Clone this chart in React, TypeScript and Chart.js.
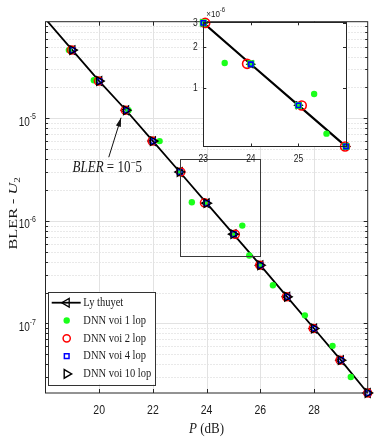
import React, { useEffect, useRef } from "react";
import { Chart, registerables } from "chart.js";
Chart.register(...registerables);

// ---------- data ----------
const seriesLabels = ["Ly thuyet", "DNN voi 1 lop", "DNN voi 2 lop", "DNN voi 4 lop", "DNN voi 10 lop"];

const theoryX = [18, 19, 20, 21, 22, 23, 24, 25, 26, 27, 28, 29, 30];
const theoryY = [9.3e-5, 4.63e-5, 2.31e-5, 1.2e-5, 6.0e-6, 3.0e-6, 1.49e-6, 7.43e-7, 3.7e-7, 1.82e-7, 8.94e-8, 4.39e-8, 2.1e-8];

const dnn1X = [18.87, 19.8, 21.09, 22.25, 23.0, 23.45, 24.0, 25.0, 25.33, 25.59, 26.0, 26.47, 27.66, 28.69, 29.37];
const dnn1Y = [4.63e-5, 2.35e-5, 1.2e-5, 6.0e-6, 3.0e-6, 1.52e-6, 1.5e-6, 7.4e-7, 9.0e-7, 4.6e-7, 3.7e-7, 2.36e-7, 1.2e-7, 6.05e-8, 3.01e-8];

const dnn2X = [18.97, 19.97, 20.97, 21.97, 23.04, 23.92, 25.07, 25.98, 26.97, 27.97, 28.97, 30];
const dnn2Y = [4.63e-5, 2.31e-5, 1.2e-5, 6.0e-6, 3.0e-6, 1.5e-6, 7.4e-7, 3.7e-7, 1.82e-7, 8.94e-8, 4.39e-8, 2.1e-8];

const dnn4X = [19, 20, 21, 22, 23, 24, 25, 26, 27, 28, 29, 30];
const dnn4Y = [4.63e-5, 2.31e-5, 1.2e-5, 6.0e-6, 3.0e-6, 1.49e-6, 7.43e-7, 3.7e-7, 1.82e-7, 8.94e-8, 4.39e-8, 2.1e-8];

const dnn10X = [19, 20, 21, 22, 23, 24, 25, 26, 27, 28, 29, 30];
const dnn10Y = [4.63e-5, 2.31e-5, 1.2e-5, 6.0e-6, 3.0e-6, 1.49e-6, 7.43e-7, 3.7e-7, 1.82e-7, 8.94e-8, 4.39e-8, 2.1e-8];

// axes
const xMin = 18, xMax = 30;
const yMin = 2.1e-8, yMax = 8.76e-5;
const xTickValues = [20, 22, 24, 26, 28];
const xTickLabels = ["20", "22", "24", "26", "28"];
const yTickValues = [1e-7, 1e-6, 1e-5];
const yTickExps = ["-7", "-6", "-5"];

const insetXMin = 23, insetXMax = 26;
const insetYMin = 3.7e-7, insetYMax = 3.03e-6;
const insetXTicks = [23, 24, 25];
const insetXLabels = ["23", "24", "25"];
const insetYTicks = [1e-6, 2e-6, 3e-6];
const insetYLabels = ["1", "2", "3"];
const insetExp = "-6";

const zoomBoxX = [23, 26];
const zoomBoxY = [4.57e-7, 3.98e-6];

const annotPoint = [21, 1.2e-5];
const xTitle = ["P", " (dB)"];
const yTitle = ["BLER - ", "U", "2"];

// ---------- styles ----------
const AXIS = "#262626";
const SANS = "'Liberation Sans', Arial, sans-serif";
const SERIF = "'Liberation Serif', 'Times New Roman', serif";
const GREEN = "#1aff1a";
const CLEAR = "rgba(0,0,0,0)";

const pts = (xs: number[], ys: number[]) => xs.map((x, i) => ({ x, y: ys[i] }));

function txt(ctx: CanvasRenderingContext2D, s: string, x: number, y: number, font: string,
  align: CanvasTextAlign = "left", sy = 1.3, baseline: CanvasTextBaseline = "middle") {
  ctx.save();
  ctx.font = font;
  ctx.fillStyle = "#1a1a1a";
  ctx.textAlign = align;
  ctx.textBaseline = baseline;
  ctx.translate(x, y);
  ctx.scale(1, sy);
  ctx.fillText(s, 0, 0);
  ctx.restore();
}
function tw(ctx: CanvasRenderingContext2D, s: string, font: string) {
  ctx.save();
  ctx.font = font;
  const w = ctx.measureText(s).width;
  ctx.restore();
  return w;
}
function seg(ctx: CanvasRenderingContext2D, x1: number, y1: number, x2: number, y2: number) {
  ctx.beginPath();
  ctx.moveTo(x1, y1);
  ctx.lineTo(x2, y2);
  ctx.stroke();
}
function marker(ctx: CanvasRenderingContext2D, style: string, x: number, y: number, r: number,
  rot: number, stroke: string | null, fill: string | null, lw: number) {
  ctx.save();
  ctx.beginPath();
  if (style === "circle") ctx.arc(x, y, r, 0, Math.PI * 2);
  else if (style === "rect") {
    const s = r * Math.SQRT1_2;
    ctx.rect(x - s, y - s, 2 * s, 2 * s);
  } else {
    let rad = (rot * Math.PI) / 180;
    for (let k = 0; k < 3; k++) {
      const px = x + Math.sin(rad) * r, py = y - Math.cos(rad) * r;
      if (k === 0) ctx.moveTo(px, py); else ctx.lineTo(px, py);
      rad += (2 * Math.PI) / 3;
    }
    ctx.closePath();
  }
  if (fill) { ctx.fillStyle = fill; ctx.fill(); }
  if (stroke && lw > 0) { ctx.strokeStyle = stroke; ctx.lineWidth = lw; ctx.stroke(); }
  ctx.restore();
}

function minorLogValues(lo: number, hi: number) {
  const out: number[] = [];
  for (let e = Math.floor(Math.log10(lo)); e <= Math.ceil(Math.log10(hi)); e++) {
    for (let m = 1; m <= 9; m++) {
      const v = m * Math.pow(10, e);
      if (v > lo && v < hi) out.push(v);
    }
  }
  return out;
}

// ---------- main chart plugin ----------
const mainPlugin = {
  id: "mainDecor",
  beforeDatasetsDraw(chart: any) {
    const { ctx, chartArea: a, scales } = chart;
    const xs = scales.x, ys = scales.y;
    ctx.save();
    ctx.lineWidth = 1;
    ctx.strokeStyle = "#d2d2d2";
    ctx.setLineDash([1, 2]);
    for (const v of minorLogValues(yMin, yMax)) {
      if (yTickValues.some((t) => Math.abs(t - v) / t < 1e-6)) continue;
      const py = Math.round(ys.getPixelForValue(v)) + 0.5;
      seg(ctx, a.left, py, a.right, py);
    }
    ctx.setLineDash([]);
    ctx.strokeStyle = "#e2e2e2";
    for (const v of yTickValues) {
      const py = Math.round(ys.getPixelForValue(v)) + 0.5;
      seg(ctx, a.left, py, a.right, py);
    }
    for (const v of xTickValues) {
      const px = Math.round(xs.getPixelForValue(v)) + 0.5;
      seg(ctx, px, a.top, px, a.bottom);
    }
    ctx.restore();
  },
  afterDatasetsDraw(chart: any) {
    const { ctx, chartArea: a, scales } = chart;
    const xs = scales.x, ys = scales.y;
    ctx.save();
    // zoom rectangle
    ctx.strokeStyle = "#3a3a3a";
    ctx.lineWidth = 1;
    const rx1 = Math.round(xs.getPixelForValue(zoomBoxX[0])) + 0.5;
    const rx2 = Math.round(xs.getPixelForValue(zoomBoxX[1])) + 0.5;
    const ry1 = Math.round(ys.getPixelForValue(zoomBoxY[1])) + 0.5;
    const ry2 = Math.round(ys.getPixelForValue(zoomBoxY[0])) + 0.5;
    ctx.strokeRect(rx1, ry1, rx2 - rx1, ry2 - ry1);

    // axes box
    ctx.strokeStyle = AXIS;
    ctx.strokeRect(a.left, a.top, a.right - a.left, a.bottom - a.top);
    // inward ticks
    for (const v of minorLogValues(yMin, yMax)) {
      const major = yTickValues.some((t) => Math.abs(t - v) / t < 1e-6);
      const len = major ? 4 : 2.5;
      const py = Math.round(ys.getPixelForValue(v)) + 0.5;
      seg(ctx, a.left, py, a.left + len, py);
      seg(ctx, a.right, py, a.right - len, py);
    }
    for (const v of xTickValues) {
      const px = Math.round(xs.getPixelForValue(v)) + 0.5;
      seg(ctx, px, a.bottom, px, a.bottom - 4);
      seg(ctx, px, a.top, px, a.top + 4);
    }

    // x tick labels
    const xf = `10.5px ${SANS}`;
    xTickValues.forEach((v, i) => {
      txt(ctx, xTickLabels[i], xs.getPixelForValue(v), a.bottom + 17.7, xf, "center", 1.3);
    });
    // y tick labels 10^e
    const bf = `10px ${SANS}`, sf = `7px ${SANS}`;
    yTickValues.forEach((v, i) => {
      const py = ys.getPixelForValue(v);
      const we = tw(ctx, yTickExps[i], sf);
      const right = a.left - 9.5;
      txt(ctx, yTickExps[i], right, py - 1.5, sf, "right", 1.3);
      txt(ctx, "10", right - we, py + 3.6, bf, "right", 1.3);
    });

    // x title
    const tf = `13px ${SERIF}`, tfi = `italic 13px ${SERIF}`;
    const w1 = tw(ctx, xTitle[0], tfi), w2 = tw(ctx, xTitle[1], tf);
    const cx = (a.left + a.right) / 2;
    txt(ctx, xTitle[0], cx - (w1 + w2) / 2, 429, tfi, "left", 1.15);
    txt(ctx, xTitle[1], cx - (w1 + w2) / 2 + w1, 429, tf, "left", 1.15);

    // y title (rotated)
    {
      const f1 = `13px ${SERIF}`, f2 = `italic 13px ${SERIF}`, f3 = `9px ${SERIF}`;
      const a1 = tw(ctx, yTitle[0], f1), a2 = tw(ctx, yTitle[1], f2), a3 = tw(ctx, yTitle[2], f3);
      const total = a1 + a2 + a3;
      ctx.save();
      ctx.translate(14, (a.top + a.bottom) / 2 + 6);
      ctx.rotate(-Math.PI / 2);
      ctx.scale(1.25, 1);
      ctx.fillStyle = "#1a1a1a";
      ctx.textBaseline = "middle";
      ctx.textAlign = "left";
      ctx.font = f1; ctx.fillText(yTitle[0], -total / 2, 0);
      ctx.font = f2; ctx.fillText(yTitle[1], -total / 2 + a1, 0);
      ctx.font = f3; ctx.fillText(yTitle[2], -total / 2 + a1 + a2, 3.5);
      ctx.restore();
    }

    // annotation BLER = 10^-5 with arrow
    {
      const px = xs.getPixelForValue(annotPoint[0]);
      const py = ys.getPixelForValue(annotPoint[1]);
      const tipX = px - 5, tipY = py + 7.5;
      const tailX = px - 17.3, tailY = py + 47;
      ctx.strokeStyle = "#111";
      ctx.lineWidth = 1;
      seg(ctx, tailX, tailY, tipX, tipY);
      const ang = Math.atan2(tipY - tailY, tipX - tailX);
      const L = 9, W = 2.6;
      ctx.beginPath();
      ctx.moveTo(tipX, tipY);
      ctx.lineTo(tipX - L * Math.cos(ang) + W * Math.sin(ang), tipY - L * Math.sin(ang) - W * Math.cos(ang));
      ctx.lineTo(tipX - L * Math.cos(ang) - W * Math.sin(ang), tipY - L * Math.sin(ang) + W * Math.cos(ang));
      ctx.closePath();
      ctx.fillStyle = "#111";
      ctx.fill();
      const fi = `italic 13px ${SERIF}`, fr = `13px ${SERIF}`, fs = `9px ${SERIF}`;
      let x0 = px - 53.5;
      const base = py + 61.5;
      const parts: [string, string, number][] = [["BLER", fi, 0], [" = 10", fr, 0], ["\u2212", fs, -6], ["5", fr, 0]];
      for (const [s, f, dy] of parts) {
        txt(ctx, s, x0, base + dy, f, "left", 1.22, "alphabetic");
        x0 += tw(ctx, s, f);
      }
    }

    // legend
    {
      const lx = a.left + 2.8, ly = a.bottom - 101.3, lw = 106.7, lh = 92.6;
      ctx.fillStyle = "#fff";
      ctx.fillRect(lx, ly, lw, lh);
      ctx.strokeStyle = "#333";
      ctx.lineWidth = 1;
      ctx.strokeRect(Math.round(lx) + 0.5, Math.round(ly) + 0.5, Math.round(lw), Math.round(lh));
      const sx = lx + 18.4;
      const lf = `10.5px ${SERIF}`;
      seriesLabels.forEach((lab, i) => {
        const ry = ly + 11 + i * 17.8;
        if (i === 0) {
          ctx.strokeStyle = "#000";
          ctx.lineWidth = 1.8;
          seg(ctx, lx + 3.4, ry, lx + 32.4, ry);
          marker(ctx, "triangle", sx, ry, 5, -90, "#000", null, 1.3);
        } else if (i === 1) marker(ctx, "circle", sx, ry, 3.2, 0, null, GREEN, 0);
        else if (i === 2) marker(ctx, "circle", sx, ry, 3.6, 0, "#ff0000", null, 1.5);
        else if (i === 3) marker(ctx, "rect", sx, ry, 3.3, 0, "#0000ff", null, 1.5);
        else marker(ctx, "triangle", sx, ry, 5, 90, "#000", null, 1.4);
        txt(ctx, lab, lx + 35, ry, lf, "left", 1.2);
      });
    }
    ctx.restore();
  },
};

// ---------- inset plugin ----------
const insetPlugin = {
  id: "insetDecor",
  beforeDatasetsDraw(chart: any) {
    const { ctx, chartArea: a } = chart;
    ctx.save();
    ctx.fillStyle = "#fff";
    ctx.fillRect(a.left, a.top, a.right - a.left, a.bottom - a.top);
    ctx.restore();
  },
  afterDatasetsDraw(chart: any) {
    const { ctx, chartArea: a, scales } = chart;
    const xs = scales.x, ys = scales.y;
    ctx.save();
    ctx.strokeStyle = AXIS;
    ctx.lineWidth = 1;
    ctx.strokeRect(Math.round(a.left) + 0.5, Math.round(a.top) + 0.5, Math.round(a.right - a.left), Math.round(a.bottom - a.top));
    for (const v of insetXTicks) {
      const px = Math.round(xs.getPixelForValue(v)) + 0.5;
      seg(ctx, px, a.bottom, px, a.bottom - 3);
      seg(ctx, px, a.top, px, a.top + 3);
    }
    for (const v of insetYTicks) {
      const py = Math.round(ys.getPixelForValue(v)) + 0.5;
      seg(ctx, a.left, py, a.left + 3, py);
      seg(ctx, a.right, py, a.right - 3, py);
    }
    const f = `8.5px ${SANS}`;
    insetXTicks.forEach((v, i) => txt(ctx, insetXLabels[i], xs.getPixelForValue(v), a.bottom + 13, f, "center", 1.2));
    insetYTicks.forEach((v, i) => txt(ctx, insetYLabels[i], a.left - 5.5, ys.getPixelForValue(v), f, "right", 1.2));
    const ef = `8px ${SANS}`, sf = `6px ${SANS}`;
    const w = tw(ctx, "\u00d710", ef);
    txt(ctx, "\u00d710", a.left + 3, a.top - 8, ef, "left", 1.2);
    txt(ctx, insetExp, a.left + 3 + w, a.top - 12.5, sf, "left", 1.2);
    ctx.restore();
  },
};

function mainConfig(): any {
  return {
    type: "scatter",
    data: {
      datasets: [
        {
          label: seriesLabels[0], data: pts(theoryX, theoryY), showLine: true,
          borderColor: "#000", borderWidth: 1.8, pointStyle: "triangle", pointRotation: -90,
          pointRadius: (c: any) => (c.dataIndex === 0 ? 0 : 5), pointBorderWidth: 1.3,
          pointBorderColor: "#000", pointBackgroundColor: CLEAR, order: 5,
          clip: { left: 0, top: 0, right: 8, bottom: 8 },
        },
        {
          label: seriesLabels[1], data: pts(dnn1X, dnn1Y), pointStyle: "circle", pointRadius: 3.2,
          pointBackgroundColor: GREEN, pointBorderColor: GREEN, pointBorderWidth: 0, order: 4, clip: false,
        },
        {
          label: seriesLabels[2], data: pts(dnn2X, dnn2Y), pointStyle: "circle", pointRadius: 4,
          pointBackgroundColor: CLEAR, pointBorderColor: "#ff0000", pointBorderWidth: 1.5, order: 3, clip: false,
        },
        {
          label: seriesLabels[3], data: pts(dnn4X, dnn4Y), pointStyle: "rect", pointRadius: 3.3,
          pointBackgroundColor: CLEAR, pointBorderColor: "#0000ff", pointBorderWidth: 1.5, order: 2, clip: false,
        },
        {
          label: seriesLabels[4], data: pts(dnn10X, dnn10Y), pointStyle: "triangle", pointRotation: 90,
          pointRadius: 5, pointBackgroundColor: CLEAR, pointBorderColor: "#000", pointBorderWidth: 1.3,
          order: 1, clip: false,
        },
      ],
    },
    options: {
      animation: false, responsive: false, events: [],
      layout: { padding: { top: 21.7, right: 4, left: 0, bottom: 0 } },
      plugins: { legend: { display: false }, tooltip: { enabled: false } },
      scales: {
        x: {
          type: "linear", min: xMin, max: xMax,
          grid: { display: false }, border: { display: false }, ticks: { display: false },
          afterFit: (s: any) => { s.height = 46; },
        },
        y: {
          type: "logarithmic", min: yMin, max: yMax,
          grid: { display: false }, border: { display: false }, ticks: { display: false },
          afterFit: (s: any) => { s.width = 45.5; },
        },
      },
    },
    plugins: [mainPlugin],
  };
}

function insetConfig(): any {
  const isInt = (c: any) => c && c.raw && Number.isInteger(c.raw.x);
  return {
    type: "scatter",
    data: {
      datasets: [
        {
          label: seriesLabels[0], data: pts(theoryX, theoryY), showLine: true,
          borderColor: "#000", borderWidth: 2.2, pointStyle: "triangle", pointRotation: -90,
          pointRadius: 4, pointBorderWidth: 1.2, pointBorderColor: "#000", pointBackgroundColor: CLEAR,
          order: 5, clip: 0,
        },
        {
          label: seriesLabels[4], data: pts(dnn10X, dnn10Y), pointStyle: "triangle", pointRotation: 90,
          pointRadius: 4, pointBackgroundColor: CLEAR, pointBorderColor: "#000", pointBorderWidth: 1.2,
          order: 4, clip: 6,
        },
        {
          label: seriesLabels[2], data: pts(dnn2X, dnn2Y), pointStyle: "circle", pointRadius: 4.5,
          pointBackgroundColor: CLEAR, pointBorderColor: "#ff0000", pointBorderWidth: 1.6, order: 3, clip: 6,
        },
        {
          label: seriesLabels[1], data: pts(dnn1X, dnn1Y),
          pointStyle: (c: any) => (isInt(c) ? "rect" : "circle"),
          pointRadius: (c: any) => (isInt(c) ? 5 : 3.2),
          pointBackgroundColor: GREEN, pointBorderColor: GREEN, pointBorderWidth: 0, order: 2, clip: 6,
        },
        {
          label: seriesLabels[3], data: pts(dnn4X, dnn4Y), pointStyle: "rect", pointRadius: 3,
          pointBackgroundColor: CLEAR, pointBorderColor: "#0000ff", pointBorderWidth: 1.6, order: 1, clip: 6,
        },
      ],
    },
    options: {
      animation: false, responsive: false, events: [],
      layout: { padding: { top: 22.3, right: 14, left: 0, bottom: 0 } },
      plugins: { legend: { display: false }, tooltip: { enabled: false } },
      scales: {
        x: {
          type: "linear", min: insetXMin, max: insetXMax,
          grid: { display: false }, border: { display: false }, ticks: { display: false },
          afterFit: (s: any) => { s.height = 28.5; },
        },
        y: {
          type: "logarithmic", min: insetYMin, max: insetYMax,
          grid: { display: false }, border: { display: false }, ticks: { display: false },
          afterFit: (s: any) => { s.width = 23.3; },
        },
      },
    },
    plugins: [insetPlugin],
  };
}

export default function App() {
  const mainRef = useRef<HTMLCanvasElement>(null);
  const insetRef = useRef<HTMLCanvasElement>(null);
  useEffect(() => {
    document.body.style.margin = "0";
    const c1 = new Chart(mainRef.current as HTMLCanvasElement, mainConfig());
    const c2 = new Chart(insetRef.current as HTMLCanvasElement, insetConfig());
    return () => {
      c1.destroy();
      c2.destroy();
    };
  }, []);
  return (
    <div style={{ position: "relative", width: 374, height: 439, background: "#fff", overflow: "hidden" }}>
      <canvas ref={mainRef} width={374} height={439} style={{ position: "absolute", left: 0, top: 0 }} />
      <canvas ref={insetRef} width={180} height={175} style={{ position: "absolute", left: 180, top: 0 }} />
    </div>
  );
}
